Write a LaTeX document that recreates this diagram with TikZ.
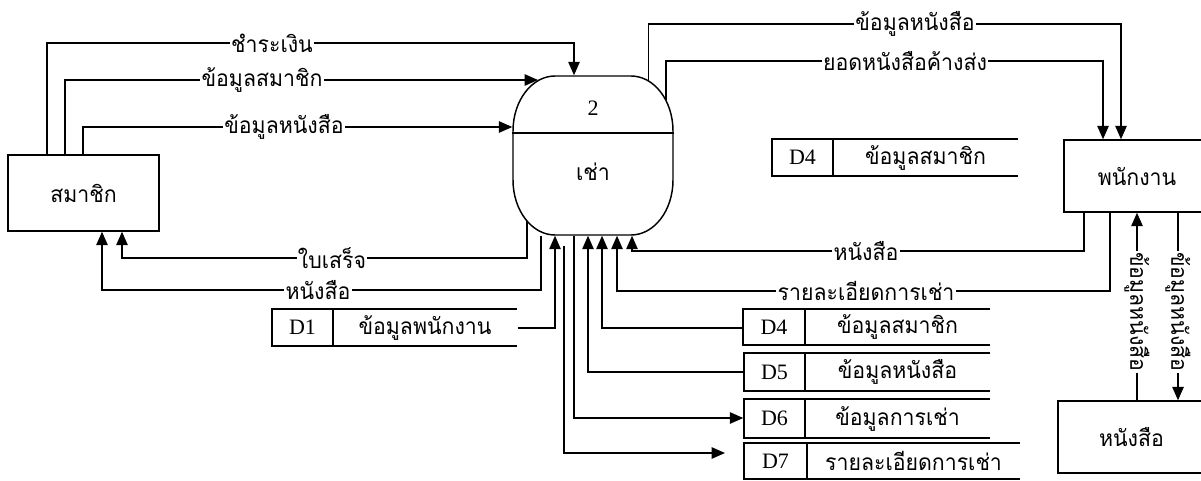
\documentclass[tikz,border=0pt]{standalone}
\usepackage{fontspec}
\setmainfont{Liberation Serif}
\newfontfamily\thaifont[Script=Thai,FakeStretch=0.94]{Loma}
\usetikzlibrary{arrows.meta,calc}
\newdimen\pxu
\pxu=0.75pt
\begin{document}
\begin{tikzpicture}[x=0.75pt,y=-0.75pt,line width=1.1pt,
  >={Triangle[length=10pt,width=8.5pt]},
  th/.style={font=\thaifont\fontsize{17pt}{20pt}\selectfont},
  lbl/.style={th,fill=white,inner sep=1pt},
  ent/.style={draw,th,inner sep=0pt},
  lat/.style={font=\fontsize{16.5pt}{18pt}\selectfont,inner sep=0pt},
  storebox/.style={inner sep=0pt}]
\useasboundingbox (0,0) rectangle (1201,481);

% entities
\node[ent,minimum width=151\pxu,minimum height=76\pxu] (mem) at (83.5,193) {สมาชิก};
\node[ent,minimum width=146\pxu,minimum height=72\pxu] (emp) at (1137,176) {พนักงาน};
\node[ent,minimum width=147\pxu,minimum height=72\pxu] (book) at (1131.5,437) {หนังสือ};

% process
\node[minimum width=160\pxu,minimum height=159\pxu,inner sep=0pt] (proc) at (593,155.5) {};
\draw (513,131) .. controls (513,100.6) and (531.8,76) .. (555,76) -- (631,76)
  .. controls (654.2,76) and (673,100.6) .. (673,131) -- (673,180)
  .. controls (673,210.4) and (654.2,235) .. (631,235) -- (555,235)
  .. controls (531.8,235) and (513,210.4) .. (513,180) -- cycle;
\draw (proc.west |- 0,133) -- (proc.east |- 0,133);
\node[lat] (pnum) at (593,108) {2};
\node[th] (pname) at (593,172) {เช่า};

% data stores
\newcommand{\dstore}[8]{%
  \node[storebox,minimum width={(#4-#2)*\pxu},minimum height={(#5-#3)*\pxu}] (#1) at ({(#2+#4)/2},{(#3+#5)/2}) {};
  \draw (#4,#3) -- (#2,#3) -- (#2,#5) -- (#4,#5);
  \draw (#6,#3) -- (#6,#5);
  \node[lat] (#1id) at ({(#2+#6)/2},{(#3+#5)/2}) {#7};
  \node[th] (#1lb) at ({(#6+#4)/2},{(#3+#5)/2}) {#8};}
\dstore{d1}{272}{309}{517}{346}{333}{D1}{ข้อมูลพนักงาน}
\dstore{d4a}{772}{139}{1018}{176}{833}{D4}{ข้อมูลสมาชิก}
\dstore{d4b}{743}{309}{990}{345}{805}{D4}{ข้อมูลสมาชิก}
\dstore{d5}{744}{353}{990}{391}{805}{D5}{ข้อมูลหนังสือ}
\dstore{d6}{744}{399}{990}{438}{805}{D6}{ข้อมูลการเช่า}
\dstore{d7}{744}{443}{1020}{479}{807}{D7}{รายละเอียดการเช่า}

% connectors
\coordinate (p2in) at (538,80);
\coordinate (p4out) at (648.5,81);
\coordinate (p5out) at (666,100);
\coordinate (p6out) at (527,221);
\coordinate (d7in) at (725,453);
\draw[->] (mem.north -| 47,0) |- (574,43) -- (proc.north -| 574,0);
\draw[->] (mem.north -| 65,0) |- (p2in);
\draw[->] (mem.north -| 83,0) |- (proc.west |- 0,127);
\draw[->] (p4out) |- (1121,24) -- (emp.north -| 1121,0);
\draw[->] (p5out) |- (1103,61) -- (emp.north -| 1103,0);
\draw[->] (p6out) |- (122,258) -- (mem.south -| 122,0);
\draw[->] (proc.south -| 541,0) |- (102,290) -- (mem.south -| 102,0);
\draw[->] (d1.east |- 0,328) -| (proc.south -| 555,0);
\draw[->] ($(proc.south -| 564,0)+(0,10)$) |- (d7in);
\draw[->] (proc.south -| 574,0) |- (d6.west |- 0,418);
\draw[->] (d5.west |- 0,372) -| (proc.south -| 588,0);
\draw[->] (d4b.west |- 0,328) -| (proc.south -| 602,0);
\draw[->] (emp.south -| 1110,0) |- (617,291) -- (proc.south -| 617,0);
\draw[->] (emp.south -| 1084,0) |- (632,251) -- (proc.south -| 632,0);
\draw[->] (book.north -| 1137,0) -- (emp.south -| 1137,0);
\draw[->] (emp.south -| 1178,0) -- (book.north -| 1178,0);

% labels
\node[lbl] (l1) at (272,43) {ชำระเงิน};
\node[lbl] (l2) at (262,80) {ข้อมูลสมาชิก};
\node[lbl] (l3) at (284,127) {ข้อมูลหนังสือ};
\node[lbl] (l4) at (915,24) {ข้อมูลหนังสือ};
\node[lbl] (l5) at (905,61) {ยอดหนังสือค้างส่ง};
\node[lbl] (l6) at (332,258) {ใบเสร็จ};
\node[lbl] (l7) at (318,290) {หนังสือ};
\node[lbl] (l8) at (866,251) {หนังสือ};
\node[lbl] (l9) at (866,291) {รายละเอียดการเช่า};
\node[lbl,rotate=-90] (l10) at (1137,312) {ข้อมูลหนังสือ};
\node[lbl,rotate=-90] (l11) at (1178,312) {ข้อมูลหนังสือ};
\end{tikzpicture}
\end{document}
